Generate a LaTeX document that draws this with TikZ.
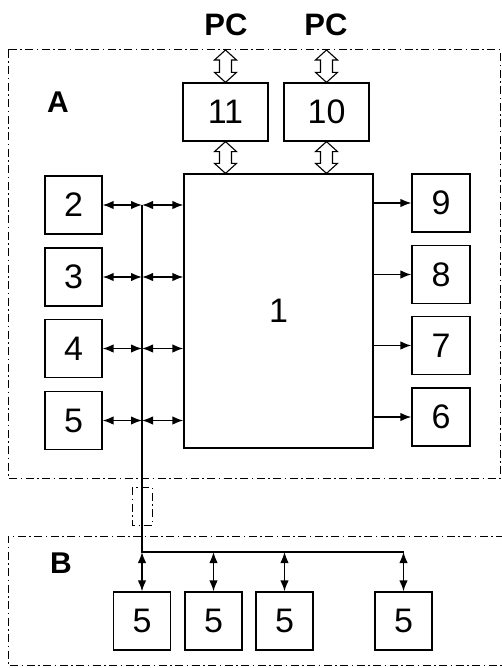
\documentclass[tikz,border=0pt]{standalone}
\usepackage{fontspec}
\setmainfont{Liberation Sans}
\usetikzlibrary{arrows.meta,calc}
\newcommand\hollowarrow[2]{%
  \draw[line width=1.1pt, fill=white] let \p1=#1, \p2=#2 in
   (\x1,\y1) -- (\x1+11pt,\y1-10pt) -- (\x1+6pt,\y1-10pt) -- (\x1+6pt,\y2+10pt)
   -- (\x1+11pt,\y2+10pt) -- (\x1,\y2) -- (\x1-11pt,\y2+10pt) -- (\x1-6pt,\y2+10pt)
   -- (\x1-6pt,\y1-10pt) -- (\x1-11pt,\y1-10pt) -- cycle;}
\begin{document}
\begin{tikzpicture}[x=1pt,y=-1pt,
  box/.style={draw, line width=1.2pt, minimum width=57pt, minimum height=58pt,
    inner sep=0pt, font=\fontsize{34}{34}\selectfont},
  frame/.style={line width=1pt, dash pattern=on 8pt off 3.5pt on 1.5pt off 3.5pt},
  lbl/.style={font=\fontsize{30}{30}\selectfont\bfseries, inner sep=0pt},
  pc/.style={font=\fontsize{31}{31}\selectfont\bfseries, inner sep=0pt},
  conn/.style={line width=1.5pt},
  bi/.style={conn, {Latex[length=11pt,width=8.5pt]}-{Latex[length=11pt,width=8.5pt]}},
  uni/.style={conn, -{Latex[length=11pt,width=8.5pt]}}]
\useasboundingbox (0,0) rectangle (502,668);

% frames
\draw[frame] (8,50) rectangle (500,478);
\draw[frame] (504,536) -- (8,536) -- (8,665) -- (504,665);
\draw[frame] (132,487) rectangle (152,525);

% labels
\node[lbl] (labA) at (58,102) {A};
\node[lbl] (labB) at (61,563) {B};
\node[pc] (pc1) at (226,25) {PC};
\node[pc] (pc2) at (326,25) {PC};

% boxes
\node[box, minimum width=85pt] (b11) at (225.5,112) {11};
\node[box, minimum width=85pt] (b10) at (326.5,112) {10};
\node[box, minimum width=189pt, minimum height=274pt] (b1) at (278.5,311) {1};

\node[box] (b2) at (73.5,205) {2};
\node[box] (b3) at (73.5,277) {3};
\node[box] (b4) at (73.5,348.5) {4};
\node[box] (b5) at (73.5,420.5) {5};

\node[box, minimum width=58pt] (b9) at (441,203) {9};
\node[box, minimum width=58pt] (b8) at (441,274.5) {8};
\node[box, minimum width=58pt] (b7) at (441,345.5) {7};
\node[box, minimum width=58pt] (b6) at (441,417) {6};

\node[box] (c1) at (142,621) {5};
\node[box] (c2) at (213.5,621) {5};
\node[box] (c3) at (284.5,621) {5};
\node[box] (c4) at (403.5,621) {5};

% hollow double arrows
\coordinate (t11) at (225.5,50);
\coordinate (t10) at (326.5,50);
\hollowarrow{(t11)}{(b11.north)}
\hollowarrow{(t10)}{(b10.north)}
\hollowarrow{(b11.south)}{(b11.south |- b1.north)}
\hollowarrow{(b10.south)}{(b10.south |- b1.north)}

% bus
\coordinate (bustop) at (142,205);
\coordinate (busbot) at (142,552);
\draw[conn] (bustop) -- (busbot) -- (busbot -| c4.north);

\foreach \b in {b2,b3,b4,b5}{
  \draw[bi] (\b.east) -- (\b.east -| bustop);
  \draw[bi] (\b.east -| bustop) -- (\b.east -| b1.west);
}
\foreach \b in {b9,b8,b7,b6}{
  \draw[uni] (\b.west -| b1.east) -- (\b.west);
}
\foreach \c in {c1,c2,c3,c4}{
  \draw[bi] (\c.north |- busbot) -- (\c.north);
}
\end{tikzpicture}
\end{document}
